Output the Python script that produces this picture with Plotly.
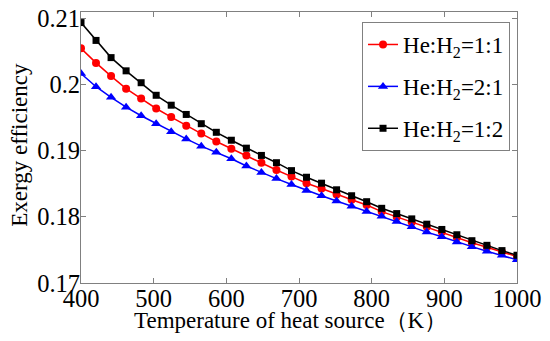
import plotly.graph_objects as go

temperature = [400.0, 420.69, 441.38, 462.07, 482.76, 503.45, 524.14, 544.83, 565.52, 586.21,
               606.90, 627.59, 648.28, 668.97, 689.66, 710.34, 731.03, 751.72, 772.41, 793.10,
               813.79, 834.48, 855.17, 875.86, 896.55, 917.24, 937.93, 958.62, 979.31, 1000.0]

eff_1_1 = [0.2055, 0.2033, 0.2013, 0.1994, 0.1979, 0.1964, 0.1951, 0.1938, 0.1926, 0.1914,
           0.1903, 0.1893, 0.1882, 0.1871, 0.1861, 0.1851, 0.1843, 0.1834, 0.1826, 0.1818,
           0.1808, 0.1800, 0.1792, 0.1785, 0.1777, 0.1769, 0.1761, 0.1754, 0.1747, 0.1740]

eff_2_1 = [0.2017, 0.1997, 0.1981, 0.1966, 0.1953, 0.1941, 0.1929, 0.1918, 0.1907, 0.1898,
           0.1888, 0.1877, 0.1867, 0.1858, 0.1849, 0.1840, 0.1832, 0.1824, 0.1816, 0.1808,
           0.1801, 0.1793, 0.1785, 0.1777, 0.1770, 0.1762, 0.1755, 0.1748, 0.1742, 0.1735]

eff_1_2 = [0.2094, 0.2067, 0.2041, 0.2021, 0.2003, 0.1984, 0.1969, 0.1955, 0.1941, 0.1928,
           0.1916, 0.1904, 0.1893, 0.1882, 0.1870, 0.1860, 0.1851, 0.1841, 0.1832, 0.1823,
           0.1813, 0.1805, 0.1797, 0.1789, 0.1781, 0.1773, 0.1764, 0.1757, 0.1749, 0.1742]

series_names = ["He:H<sub>2</sub>=1:1", "He:H<sub>2</sub>=2:1", "He:H<sub>2</sub>=1:2"]

x_ticks = [400, 500, 600, 700, 800, 900, 1000]
y_ticks = [0.17, 0.18, 0.19, 0.20, 0.21]
y_tick_text = ["0.17", "0.18", "0.19", "0.2", "0.21"]

x_title = "Temperature of heat source（K）"
y_title = "Exergy efficiency"

FONT = "Liberation Serif, Times New Roman, serif"

fig = go.Figure()
styles = [
    (eff_1_1, "#ff0000", "circle", 8),
    (eff_2_1, "#0000ff", "triangle-up", 9),
    (eff_1_2, "#000000", "square", 7),
]
for i, ((vals, color, sym, size), name) in enumerate(zip(styles, series_names)):
    fig.add_trace(go.Scatter(
        x=temperature, y=vals, name=name, mode="lines+markers",
        legendgroup=f"g{i}",
        line=dict(color=color, width=1.5),
        marker=dict(symbol=sym, size=size, color=color),
    ))

axis_common = dict(
    showline=True, linecolor="#808080", linewidth=1, mirror="ticks",
    ticks="inside", ticklen=5, tickcolor="#808080", tickwidth=1,
    showgrid=False, zeroline=False, automargin=False,
    ticklabeloverflow="allow",
    tickfont=dict(family=FONT, size=24.5, color="black"),
)

fig.update_layout(
    width=550, height=341,
    margin=dict(l=81, r=33, t=12, b=58),
    paper_bgcolor="white", plot_bgcolor="white",
    font=dict(family=FONT, color="black"),
    xaxis=dict(range=[400, 1000], tickvals=x_ticks, ticklabelstandoff=-6,
               **axis_common),
    yaxis=dict(range=[0.17, 0.211], tickvals=y_ticks, ticktext=y_tick_text,
               ticklabelstandoff=-5, **axis_common),
    legend=dict(x=0.984, y=0.963, xanchor="right", yanchor="top",
                bordercolor="#808080", borderwidth=1, bgcolor="white",
                font=dict(family=FONT, size=23), tracegroupgap=9,
                itemwidth=30),
    showlegend=True,
    annotations=[
        dict(text=x_title, xref="paper", yref="paper", x=0.48, y=-0.139,
             xanchor="center", yanchor="middle", showarrow=False,
             font=dict(family=FONT, size=23, color="black")),
        dict(text=y_title, xref="paper", yref="paper", x=-0.14, y=0.51,
             xanchor="center", yanchor="middle", showarrow=False, textangle=-90,
             font=dict(family=FONT, size=23, color="black")),
    ],
)

# remove the default 8 px page margin so the figure fills the window exactly
fig.write_html("out.html", config={"displayModeBar": False},
               post_script="document.body.style.margin='0';")
